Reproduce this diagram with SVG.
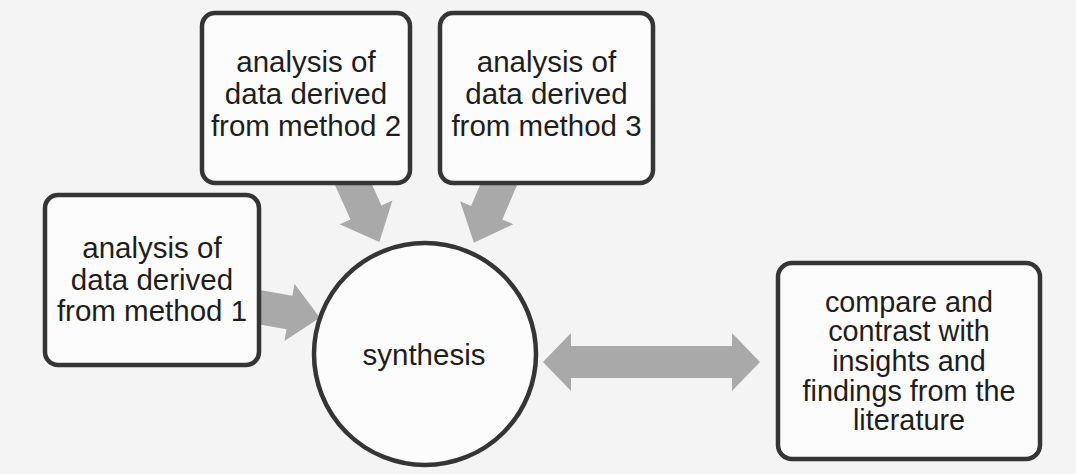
<svg xmlns="http://www.w3.org/2000/svg" width="1076" height="474" viewBox="0 0 1076 474">
  <style>
    .bg { fill: #f4f4f4; }
    .box { fill: #fcfcfc; stroke: #353535; stroke-width: 4.5; }
    .lbl { font-family: "Liberation Sans", Arial, sans-serif; font-size: 29.5px; fill: #1e1e1e; text-anchor: middle; }
    .lbl4 { font-size: 28.8px; }
    .arrow { fill: #a9a9a9; stroke: none; }
  </style>
  <defs>
    <!-- generic block arrow: starts at origin, points along +x, tip at x=68 -->
    <polygon id="blk" points="0,-17 37,-17 37,-29 68,0 37,29 37,17 0,17"/>
  </defs>
  <rect class="bg" x="0" y="0" width="1076" height="474"/>

  <g id="connectors">
    <use href="#blk" class="arrow" transform="translate(253,306) rotate(10)"/>
    <use href="#blk" class="arrow" transform="translate(350,177) rotate(65.7) scale(1.05,1)"/>
    <use href="#blk" class="arrow" transform="translate(502,177) rotate(113.2) scale(1.05,1)"/>
    <polygon class="arrow" points="543,362 571,333 571,346 732,346 732,333 760,362 732,391 732,378 571,378 571,391"/>
  </g>

  <g id="node-method1">
    <rect class="box" x="45" y="195" width="214" height="170" rx="13"/>
    <text class="lbl" x="152" y="258">analysis of</text>
    <text class="lbl" x="152" y="290">data derived</text>
    <text class="lbl" x="152" y="321">from method 1</text>
  </g>

  <g id="node-method2">
    <rect class="box" x="202" y="13" width="208" height="170" rx="13"/>
    <text class="lbl" x="306" y="72">analysis of</text>
    <text class="lbl" x="306" y="104">data derived</text>
    <text class="lbl" x="306" y="136">from method 2</text>
  </g>

  <g id="node-method3">
    <rect class="box" x="440" y="13" width="213" height="170" rx="13"/>
    <text class="lbl" x="546.5" y="72">analysis of</text>
    <text class="lbl" x="546.5" y="104">data derived</text>
    <text class="lbl" x="546.5" y="136">from method 3</text>
  </g>

  <g id="node-synthesis">
    <circle class="box" cx="425" cy="354" r="111"/>
    <text class="lbl" x="424" y="365">synthesis</text>
  </g>

  <g id="node-literature">
    <rect class="box" x="778" y="263" width="262" height="196" rx="14"/>
    <text class="lbl lbl4" x="909" y="311.8">compare and</text>
    <text class="lbl lbl4" x="909" y="341.4">contrast with</text>
    <text class="lbl lbl4" x="909" y="371">insights and</text>
    <text class="lbl lbl4" x="909" y="400.6">findings from the</text>
    <text class="lbl lbl4" x="909" y="430.2">literature</text>
  </g>
</svg>
